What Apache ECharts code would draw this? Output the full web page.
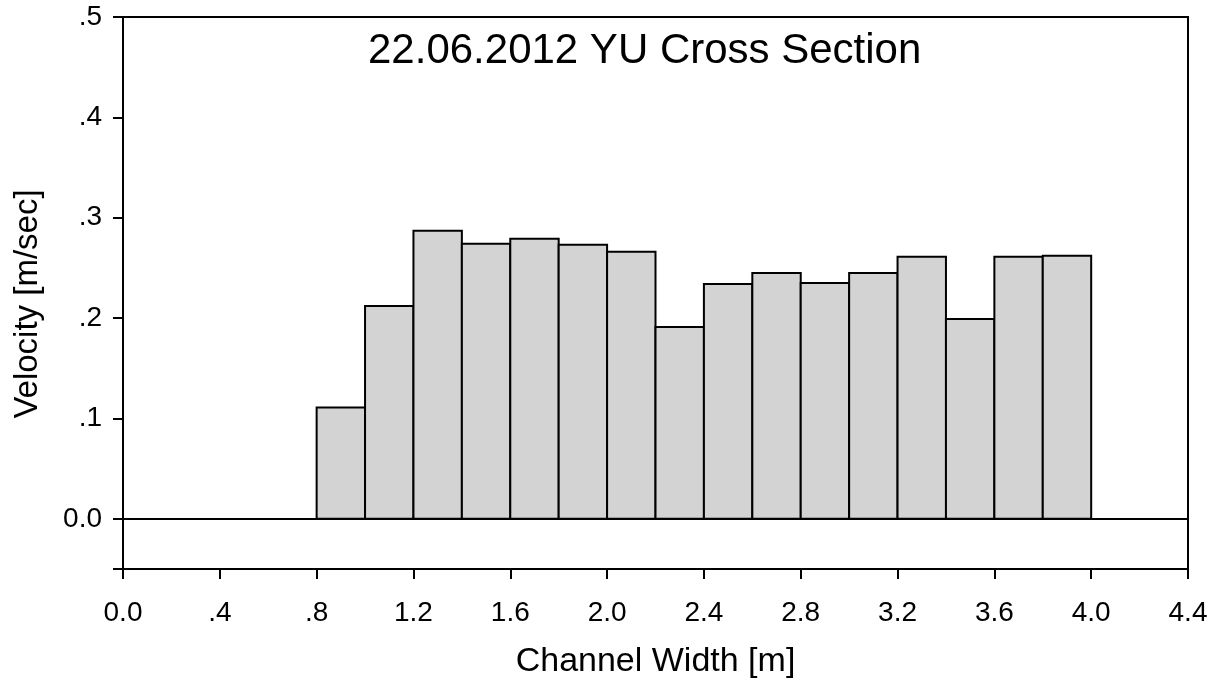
<!DOCTYPE html>
<html>
<head>
<meta charset="utf-8">
<title>22.06.2012 YU Cross Section</title>
<script src="https://cdn.jsdelivr.net/npm/echarts@6/dist/echarts.min.js"></script>
<style>
  html, body { margin: 0; padding: 0; background: #ffffff; }
  #chart { width: 1219px; height: 682px; }
</style>
</head>
<body>
<div id="chart"></div>
<script>
// Bin edges across the channel (m) and mean velocity in each bin (m/sec)
const binStart = [0.8, 1.0, 1.2, 1.4, 1.6, 1.8, 2.0, 2.2, 2.4, 2.6, 2.8, 3.0, 3.2, 3.4, 3.6, 3.8];
const binEnd   = [1.0, 1.2, 1.4, 1.6, 1.8, 2.0, 2.2, 2.4, 2.6, 2.8, 3.0, 3.2, 3.4, 3.6, 3.8, 4.0];
const velocity = [0.111, 0.212, 0.287, 0.274, 0.279, 0.273, 0.266, 0.191,
                  0.234, 0.245, 0.235, 0.245, 0.261, 0.199, 0.261, 0.262];

// Axis tick labels
const xTickLabels = ['0.0', '.4', '.8', '1.2', '1.6', '2.0', '2.4', '2.8', '3.2', '3.6', '4.0', '4.4'];
const yTickValues = [0, 0.1, 0.2, 0.3, 0.4, 0.5];
const yTickLabels = ['0.0', '.1', '.2', '.3', '.4', '.5'];
const yTickMarks  = [-0.05, 0, 0.1, 0.2, 0.3, 0.4, 0.5];

const FONT = "'Liberation Sans', Arial, sans-serif";

const barData = binStart.map((s, i) => [s, binEnd[i], velocity[i]]);

const chart = echarts.init(document.getElementById('chart'));

chart.setOption({
  animation: false,
  backgroundColor: '#ffffff',
  title: {
    text: '22.06.2012 YU Cross Section',
    left: 363,
    top: 25,
    textStyle: { fontFamily: FONT, fontSize: 42, fontWeight: 'normal', color: '#000' }
  },
  grid: {
    left: 123, right: 31, top: 17, bottom: 113,
    outerBoundsMode: 'none',
    containLabel: false,
    show: true, borderColor: '#000', borderWidth: 2, backgroundColor: 'transparent'
  },
  xAxis: {
    type: 'value',
    min: 0, max: 4.4, interval: 0.4,
    name: 'Channel Width [m]',
    nameLocation: 'middle',
    nameGap: 76,
    nameTextStyle: { fontFamily: FONT, fontSize: 34, color: '#000' },
    axisLine: { show: true, onZero: false, lineStyle: { color: '#000', width: 2 } },
    axisTick: { show: true, inside: false, length: 10, lineStyle: { color: '#000', width: 2 } },
    axisLabel: {
      margin: 30,
      fontFamily: FONT, fontSize: 28, color: '#000',
      formatter: v => xTickLabels[Math.round(v / 0.4)]
    },
    splitLine: { show: false }
  },
  yAxis: {
    type: 'value',
    min: -0.05, max: 0.5,
    name: 'Velocity [m/sec]',
    nameLocation: 'middle',
    nameGap: 79,
    nameTextStyle: { fontFamily: FONT, fontSize: 33, color: '#000', padding: [0, 22, 0, 0] },
    axisLine: { show: true, onZero: false, lineStyle: { color: '#000', width: 2 } },
    axisTick: {
      show: true, inside: false, length: 10,
      customValues: yTickMarks,
      lineStyle: { color: '#000', width: 2 }
    },
    axisLabel: {
      margin: 21,
      fontFamily: FONT, fontSize: 28, color: '#000',
      customValues: yTickValues,
      formatter: v => yTickLabels[Math.round(v * 10)]
    },
    splitLine: { show: false }
  },
  series: [{
    type: 'custom',
    data: barData,
    encode: { x: [0, 1], y: 2 },
    renderItem: function (params, api) {
      const topLeft = api.coord([api.value(0), api.value(2)]);
      const bottomRight = api.coord([api.value(1), 0]);
      return {
        type: 'rect',
        shape: {
          x: topLeft[0],
          y: topLeft[1],
          width: bottomRight[0] - topLeft[0],
          height: bottomRight[1] - topLeft[1]
        },
        style: { fill: '#d3d3d3', stroke: '#000', lineWidth: 2 }
      };
    },
    markLine: {
      silent: true,
      symbol: ['none', 'none'],
      label: { show: false },
      lineStyle: { color: '#000', width: 2, type: 'solid' },
      data: [{ yAxis: 0 }]
    }
  }]
});
</script>
</body>
</html>
